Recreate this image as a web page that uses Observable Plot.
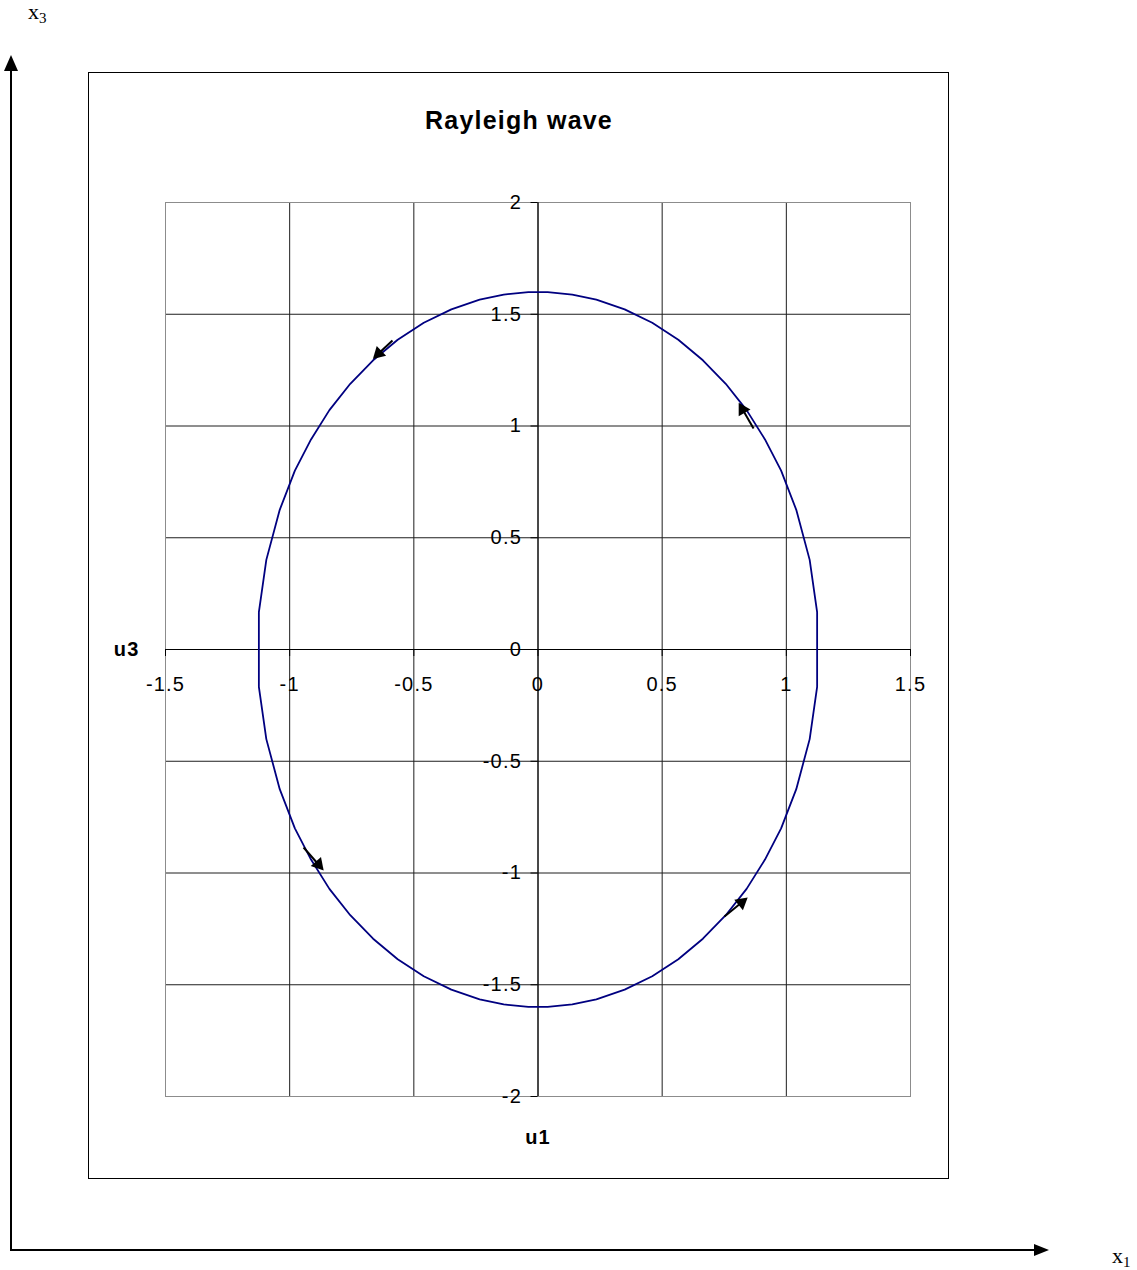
<!DOCTYPE html>
<html>
<head>
<meta charset="utf-8">
<script src="https://cdn.jsdelivr.net/npm/d3@7"></script>
<script src="https://cdn.jsdelivr.net/npm/@observablehq/plot@0.6"></script>
<style>
  html, body { margin: 0; padding: 0; background: #fff; }
  #page { position: relative; width: 1137px; height: 1270px; overflow: hidden; }
  #chart { position: absolute; left: 88px; top: 72px; }
  #overlay { position: absolute; left: 0; top: 0; pointer-events: none; }
</style>
</head>
<body>
<div id="page">
  <div id="chart"></div>
  <svg id="overlay" width="1137" height="1270"></svg>
</div>
<script>
// Particle orbit of a Rayleigh wave: horizontal (u1) and vertical (u3) displacement
const u1 = [0.039, -0.039, -0.138, -0.235, -0.349, -0.460, -0.565, -0.664, -0.756, -0.840, -0.914, -0.979, -1.040, -1.094, -1.124,
            -1.124, -1.094, -1.040, -0.979, -0.914, -0.840, -0.756, -0.664, -0.565, -0.460, -0.349, -0.235, -0.138, -0.039,
            0.039, 0.138, 0.235, 0.349, 0.460, 0.565, 0.664, 0.756, 0.840, 0.914, 0.979, 1.040, 1.094, 1.124,
            1.124, 1.094, 1.040, 0.979, 0.914, 0.840, 0.756, 0.664, 0.565, 0.460, 0.349, 0.235, 0.138, 0.039];
const u3 = [1.599, 1.599, 1.588, 1.565, 1.522, 1.462, 1.386, 1.294, 1.189, 1.071, 0.940, 0.800, 0.625, 0.401, 0.167,
            -0.167, -0.401, -0.625, -0.800, -0.940, -1.071, -1.189, -1.294, -1.386, -1.462, -1.522, -1.565, -1.588, -1.599,
            -1.599, -1.588, -1.565, -1.522, -1.462, -1.386, -1.294, -1.189, -1.071, -0.940, -0.800, -0.625, -0.401, -0.167,
            0.167, 0.401, 0.625, 0.800, 0.940, 1.071, 1.189, 1.294, 1.386, 1.462, 1.522, 1.565, 1.588, 1.599];

// Direction-of-motion arrows along the orbit (tail -> tip)
const arrowFromU1 = [-0.586, 0.868, -0.944, 0.751];
const arrowFromU3 = [1.383, 0.989, -0.886, -1.195];
const arrowToU1 = [-0.642, 0.824, -0.884, 0.820];
const arrowToU3 = [1.324, 1.074, -0.962, -1.132];

// Tick values and their labels
const xTicks = [-1.5, -1, -0.5, 0, 0.5, 1, 1.5];
const xTickLabels = ["-1.5", "-1", "-0.5", "0", "0.5", "1", "1.5"];
const yTicks = [2, 1.5, 1, 0.5, 0, -0.5, -1, -1.5, -2];
const yTickLabels = ["2", "1.5", "1", "0.5", "0", "-0.5", "-1", "-1.5", "-2"];

const titleText = "Rayleigh wave";
const xLabel = "u1";
const yLabel = "u3";

// Layout
const W = 861, H = 1107;
const mL = 77, mR = 39, mT = 130, mB = 83;
const xDomain = [-1.5, 1.5], yDomain = [-2, 2];
const kx = (W - mL - mR) / (xDomain[1] - xDomain[0]);
const ky = (H - mT - mB) / (yDomain[1] - yDomain[0]);
const tickPx = 7;
const font = "'Liberation Sans', Arial, sans-serif";

const orbit = u1.map((v, i) => ({u1: v, u3: u3[i]}));
const arrows = arrowFromU1.map((v, i) => {
  const a = {x1: v, y1: arrowFromU3[i], x2: arrowToU1[i], y2: arrowToU3[i]};
  const sx = (a.x2 - a.x1) * kx, sy = -(a.y2 - a.y1) * ky;
  a.rot = Math.atan2(sx, -sy) * 180 / Math.PI;
  return a;
});
const xt = xTicks.map((v, i) => ({v, label: xTickLabels[i]}));
const yt = yTicks.map((v, i) => ({v, label: yTickLabels[i]}));

const chart = Plot.plot({
  width: W, height: H,
  marginLeft: mL, marginRight: mR, marginTop: mT, marginBottom: mB,
  x: {domain: xDomain, axis: null},
  y: {domain: yDomain, axis: null},
  style: {fontFamily: font, background: "white", color: "black", letterSpacing: "1.2px"},
  marks: [
    // gridlines
    Plot.ruleX(xTicks, {stroke: "#1e1e1e", strokeWidth: 1}),
    Plot.ruleY(yTicks, {stroke: "#1e1e1e", strokeWidth: 1}),
    // plot-area border
    Plot.frame({stroke: "#8c8c8c", strokeWidth: 1}),
    // axes through the origin
    Plot.ruleX([0], {stroke: "black", strokeWidth: 1}),
    Plot.ruleY([0], {x1: xDomain[0], x2: xDomain[1], stroke: "black", strokeWidth: 1}),
    Plot.ruleY(yTicks, {x1: 0, x2: -tickPx / kx, stroke: "black"}),
    Plot.ruleX(xTicks, {y1: 0, y2: -tickPx / ky, stroke: "black"}),
    // tick labels
    Plot.text(yt, {x: 0, y: "v", text: "label", textAnchor: "end", dx: -16, fontSize: 20, fill: "black"}),
    Plot.text(xt, {x: "v", y: 0, text: "label", dy: 35, fontSize: 20, fill: "black"}),
    // orbit
    Plot.line(orbit, {x: "u1", y: "u3", stroke: "#000080", strokeWidth: 1.8, curve: "linear"}),
    // motion arrows
    Plot.link(arrows, {x1: "x1", y1: "y1", x2: "x2", y2: "y2", stroke: "black", strokeWidth: 2}),
    Plot.dot(arrows, {x: "x2", y: "y2", symbol: "triangle2", rotate: "rot", r: 6.5, fill: "black", stroke: "none"}),
    // titles
    Plot.text([titleText], {frameAnchor: "top", lineAnchor: "middle", dy: -82, dx: -19, text: d => d, fontSize: 25, fontWeight: "bold", fill: "black"}),
    Plot.text([yLabel], {frameAnchor: "left", lineAnchor: "middle", text: d => d, textAnchor: "end", dx: -26, fontSize: 20, fontWeight: "bold", fill: "black"}),
    Plot.text([xLabel], {frameAnchor: "bottom", lineAnchor: "middle", text: d => d, dy: 41, fontSize: 20, fontWeight: "bold", fill: "black"})
  ]
});
document.getElementById("chart").appendChild(chart);

// Outer frame and the x1 / x3 coordinate axes
const svg = d3.select("#overlay");
svg.append("rect").attr("x", 88.5).attr("y", 72.5).attr("width", 860).attr("height", 1106)
  .attr("fill", "none").attr("stroke", "black").attr("stroke-width", 1);
svg.append("line").attr("x1", 11).attr("y1", 66).attr("x2", 11).attr("y2", 1251)
  .attr("stroke", "black").attr("stroke-width", 2);
svg.append("line").attr("x1", 10).attr("y1", 1250).attr("x2", 1038).attr("y2", 1250)
  .attr("stroke", "black").attr("stroke-width", 2);
svg.append("polygon").attr("points", "11,55 4,71 18,71").attr("fill", "black");
svg.append("polygon").attr("points", "1049,1250 1034,1244 1034,1256").attr("fill", "black");

const serif = "'Liberation Serif', 'Times New Roman', serif";
const lx3 = svg.append("text").attr("x", 28).attr("y", 19).attr("font-family", serif).attr("font-size", 22);
lx3.append("tspan").text("x");
lx3.append("tspan").attr("dy", 4).attr("font-size", 15).text("3");
const lx1 = svg.append("text").attr("x", 1112).attr("y", 1263).attr("font-family", serif).attr("font-size", 22);
lx1.append("tspan").text("x");
lx1.append("tspan").attr("dy", 4).attr("font-size", 15).text("1");
</script>
</body>
</html>
